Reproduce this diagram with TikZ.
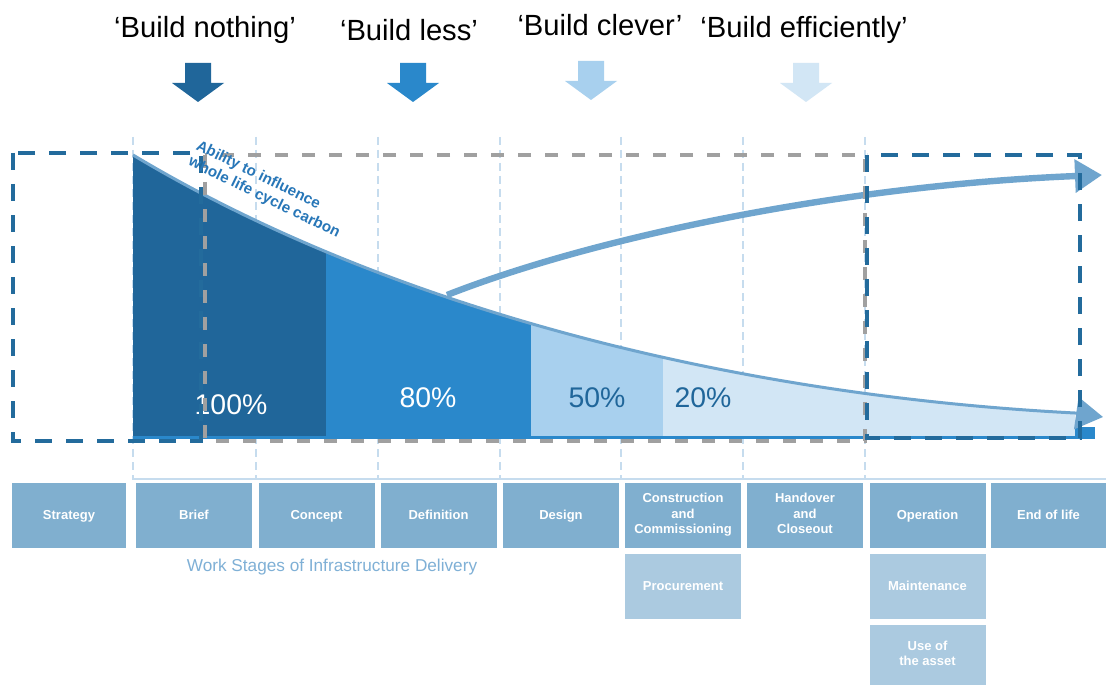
\documentclass[tikz,border=0pt]{standalone}
\usepackage{fontspec}
\setmainfont{Liberation Sans}
\usetikzlibrary{arrows.meta}

\definecolor{stagedark}{HTML}{20669A}
\definecolor{stagemid}{HTML}{2A88CB}
\definecolor{stagelight}{HTML}{A8D0EE}
\definecolor{stagepale}{HTML}{D2E6F5}
\definecolor{curveblue}{HTML}{6FA5CE}
\definecolor{framedark}{HTML}{236B9C}
\definecolor{framegray}{HTML}{A0A0A0}
\definecolor{boxtop}{HTML}{80AFCF}
\definecolor{boxlow}{HTML}{ABCAE0}
\definecolor{tickblue}{HTML}{C6DCEE}
\definecolor{captionblue}{HTML}{7FB0D6}
\definecolor{labelblue}{HTML}{2877B8}

\tikzset{
  stage/.style={fill=boxtop, text=white, font=\fontsize{6.5}{7.75}\selectfont\bfseries,
    align=center, minimum width=58pt, minimum height=32.5pt, inner sep=0pt},
  substage/.style={stage, fill=boxlow},
  oneline/.style={text height=4.6pt, text depth=0.4pt},
  pct/.style={font=\fontsize{14.2}{17}\selectfont},
  motto/.style={font=\fontsize{14.6}{17}\selectfont, anchor=base},
  gridline/.style={tickblue, line width=0.6pt, dash pattern=on 4pt off 2.5pt},
  framedash/.style={framedark, line width=2pt, dash pattern=on 8.5pt off 7pt},
  graydash/.style={framegray, line width=2pt, dash pattern=on 6.5pt off 7pt},
  bigtip/.style={-{Triangle[length=13.5pt,width=16pt]}}
}

\begin{document}
\begin{tikzpicture}[x=0.5pt,y=-0.5pt]
    \newcommand{\carbon}{(peak) .. controls (383,305) and (725,395) .. (tail)}
    \newcommand{\drop}[3]{\fill[#1] ({#2-13},#3) -- ({#2+13},#3) -- ({#2+13},{#3+20}) -- ({#2+26},{#3+20}) -- (#2,{#3+39}) -- ({#2-26},{#3+20}) -- ({#2-13},{#3+20}) -- cycle;}
    \fill[white] (0,0) rectangle (1106,684);
    \useasboundingbox (0,0) rectangle (1106,684);
    % approaches
    \node[motto] (nothing) at (205,38) {‘Build nothing’};
    \node[motto] (less) at (409,41) {‘Build less’};
    \node[motto] (clever) at (600,36) {‘Build clever’};
    \node[motto] (efficient) at (804,38) {‘Build efficiently’};
    \drop{stagedark}{198}{63}
    \drop{stagemid}{413}{63}
    \drop{stagelight}{591}{61}
    \drop{stagepale}{806}{63}
    % stage separators
    \draw[gridline] (133,137) -- (133,480);
    \draw[gridline] (256,137) -- (256,480);
    \draw[gridline] (378,137) -- (378,480);
    \draw[gridline] (500,137) -- (500,480);
    \draw[gridline] (621,137) -- (621,480);
    \draw[gridline] (743,137) -- (743,480);
    \draw[gridline] (865,137) -- (865,480);
    \draw[tickblue, line width=0.6pt] (133,479) -- (1106,479);
    \coordinate (peak) at (133,155);
    \coordinate (tail) at (1075,413);
    \coordinate (tip) at (1103,417);
    \coordinate (turn) at (447,295);
    \coordinate (gain) at (1102,175);
    \begin{scope}
      \clip (133,140) rectangle (326,437);
      \fill[stagedark] \carbon -- (1075,437) -- (133,437) -- cycle;
    \end{scope}
    \begin{scope}
      \clip (326,140) rectangle (531,437);
      \fill[stagemid] \carbon -- (1075,437) -- (133,437) -- cycle;
    \end{scope}
    \begin{scope}
      \clip (531,140) rectangle (663,437);
      \fill[stagelight] \carbon -- (1075,437) -- (133,437) -- cycle;
    \end{scope}
    \begin{scope}
      \clip (663,140) rectangle (1075,437);
      \fill[stagepale] \carbon -- (1075,437) -- (133,437) -- cycle;
    \end{scope}
    \draw[stagemid, line width=1.5pt] (133,437) -- (1095,437);
    \fill[stagemid] (1075,427) rectangle (1095,437);
    \draw[curveblue, line width=1.5pt, bigtip] \carbon -- (tip);
    \draw[curveblue, line width=3.2pt, bigtip] (turn) .. controls (600,235) and (850,185) .. (gain);
    \node[pct, text=white] (full) at (231,405) {100\%};
    \node[pct, text=white] (most) at (428,398) {80\%};
    \node[pct, text=stagedark] (half) at (597,398) {50\%};
    \node[pct, text=stagedark] (fifth) at (703,398) {20\%};
    % frames
    \draw[graydash] (205,155) rectangle (865,441);
    \draw[framedash] (13,153) rectangle (201,441);
    \draw[framedash] (867,155) rectangle (1080,438);
    \node[rotate=-26, font=\fontsize{7.6}{8.8}\selectfont\bfseries, text=labelblue, align=left, inner sep=0pt]
      (influence) at (268,190) {Ability to influence\\whole life cycle carbon};
    % work stages
    \node[stage, oneline, minimum width=57pt] (strategy) at (69,515) {Strategy};
    \node[stage, oneline] (brief) at (194,515) {Brief};
    \node[stage, oneline] (concept) at (316.5,515) {Concept};
    \node[stage, oneline] (definition) at (438.5,515) {Definition};
    \node[stage, oneline] (design) at (561,515) {Design};
    \node[stage] (construction) at (683,515) {Construction\\and\\Commissioning};
    \node[stage] (handover) at (805,515) {Handover\\and\\Closeout\vphantom{g}};
    \node[stage, oneline] (operation) at (927.5,515) {Operation};
    \node[stage, oneline, minimum width=57.5pt] (endoflife) at (1048.5,515) {End of life};
    \node[substage, oneline] (procurement) at (683,586.5) {Procurement};
    \node[substage, oneline] (maintenance) at (927.5,586.5) {Maintenance};
    \node[substage, minimum height=30pt] (useasset) at (927.5,654.5) {Use of\\the asset\vphantom{g}};
    \node[font=\fontsize{8.6}{10}\selectfont, text=captionblue] (delivery) at (332,567) {Work Stages of Infrastructure Delivery};
\end{tikzpicture}
\end{document}
